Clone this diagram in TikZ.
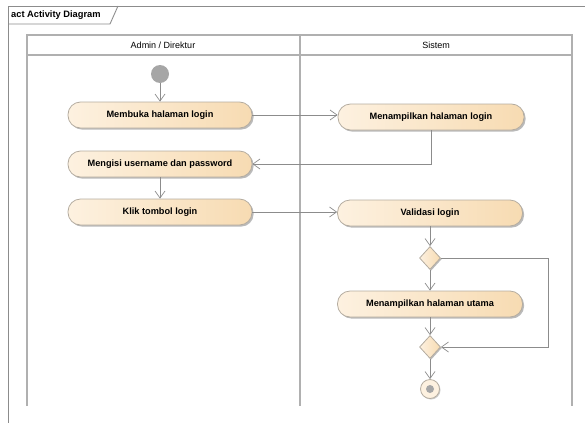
\documentclass[tikz,border=0pt]{standalone}
\usepackage{fontspec}
\setmainfont{Liberation Sans}
\usetikzlibrary{arrows.meta,shapes.geometric,shadows}
\definecolor{lanegray}{HTML}{B0B0B0}
\definecolor{linegray}{HTML}{8C8C8C}
\definecolor{nodeborder}{HTML}{B4ACA0}
\definecolor{fillL}{HTML}{FDF1E0}
\definecolor{fillR}{HTML}{F7DBB2}
\definecolor{dotgray}{HTML}{A6A6A6}
\tikzset{
  action/.style={draw=nodeborder, line width=0.8pt, rounded corners=12.5pt,
    left color=fillL, right color=fillR, minimum height=26pt, inner sep=0pt,
    font=\fontsize{9.2}{10}\selectfont\bfseries,
    drop shadow={shadow xshift=1.6pt, shadow yshift=-1.6pt, fill=black!45, opacity=0.6}},
  decision/.style={diamond, draw=nodeborder, line width=0.8pt, aspect=0.9,
    left color=fillL, right color=fillR, inner sep=0pt,
    minimum width=21pt, minimum height=23pt,
    drop shadow={shadow xshift=1.2pt, shadow yshift=-1.2pt, fill=black!45, opacity=0.6}},
  arr/.style={draw=linegray, line width=0.7pt, -{Straight Barb[length=7pt,width=10pt]}},
  lane/.style={draw=lanegray, line width=1.1pt},
  frameline/.style={draw=linegray, line width=0.9pt},
  hdr/.style={font=\fontsize{9}{10}\selectfont},
}
\begin{document}
\begin{tikzpicture}[x=1pt,y=-1pt]
\useasboundingbox (0,0) rectangle (585,423);
% outer frame
\draw[frameline] (585,6) -- (8,6) -- (8,423);
\draw[frameline] (8,24) -- (110,24) -- (118,6);
\node[anchor=west, font=\fontsize{9.3}{10}\selectfont\bfseries, inner sep=0pt] (title) at (11,15) {act Activity Diagram};
% swimlanes
\draw[lane] (27,406) -- (27,35) -- (572,35) -- (572,406);
\draw[lane] (27,55) -- (572,55);
\draw[lane] (300,35) -- (300,406);
\node[hdr] (laneA) at (163,45) {Admin / Direktur};
\node[hdr] (laneB) at (436,45) {Sistem};
% nodes
\node[circle, fill=dotgray, minimum size=18pt, inner sep=0pt] (init) at (160,74) {};
\node[action, minimum width=184pt] (a1) at (160,115) {Membuka halaman login};
\node[action, minimum width=184pt] (a2) at (160,164) {Mengisi username dan password};
\node[action, minimum width=184pt] (a3) at (160,212) {Klik tombol login};
\node[action, minimum width=186pt] (b1) at (431,117) {Menampilkan halaman login};
\node[action, minimum width=185pt] (b2) at (430,213) {Validasi login};
\node[decision] (d1) at (430,258) {};
\node[action, minimum width=185pt] (b3) at (430,304) {Menampilkan halaman utama};
\node[decision] (d2) at (430,347) {};
\node[circle, draw=nodeborder, line width=0.8pt, fill=fillL, minimum size=19pt, inner sep=0pt,
  drop shadow={shadow xshift=1pt, shadow yshift=-1pt, fill=black!40, opacity=0.5}] (final) at (430,389) {};
\node[circle, fill=dotgray, minimum size=8pt, inner sep=0pt] (finaldot) at (final.center) {};
\coordinate (loopc) at (548,258);
% connectors
\draw[arr] (init.south) -- (a1.north);
\draw[arr] (a1.east) -- (a1.east -| b1.west);
\draw[arr] (b1.south) |- (a2.east);
\draw[arr] (a2.south) -- (a3.north);
\draw[arr] (a3.east) -- (a3.east -| b2.west);
\draw[arr] (b2.south) -- (d1.north);
\draw[arr] (d1.south) -- (b3.north);
\draw[arr] (b3.south) -- (d2.north);
\draw[arr] (d1.east) -- (loopc) |- (d2.east);
\draw[arr] (d2.south) -- (final.north);
\end{tikzpicture}
\end{document}
